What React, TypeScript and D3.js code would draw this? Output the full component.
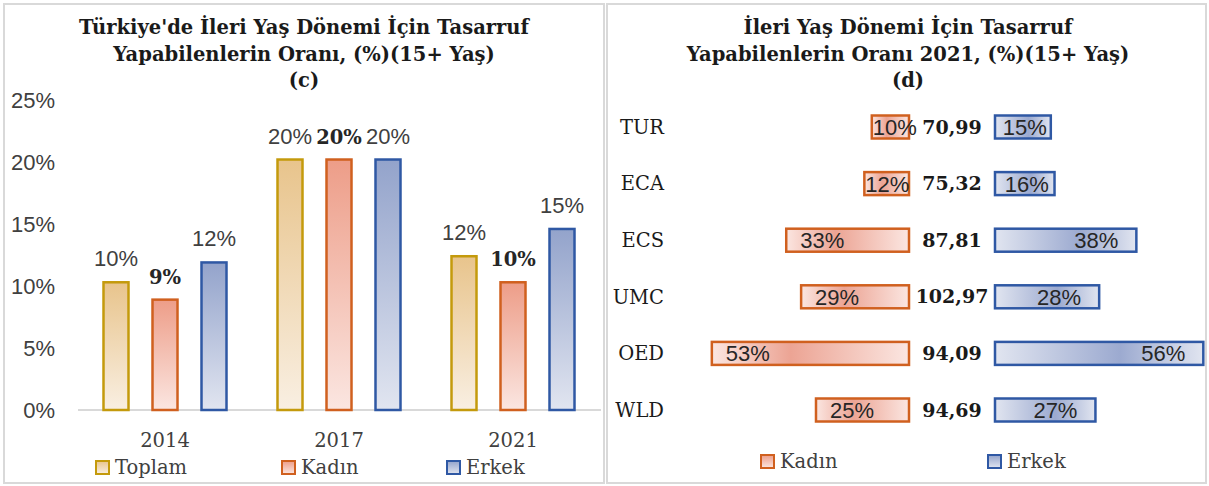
import React from 'react';
import * as d3 from 'd3';

// left chart (c)
const years = ['2014', '2017', '2021'];
const seriesNames = ['Toplam', 'Kadın', 'Erkek'];
const toplam = [10.3, 20.2, 12.4];
const kadin = [8.9, 20.2, 10.3];
const erkek = [11.9, 20.2, 14.6];
const toplamLabels = ['10%', '20%', '12%'];
const kadinLabels = ['9%', '20%', '10%'];
const erkekLabels = ['12%', '20%', '15%'];
const yTicks = [0, 5, 10, 15, 20, 25];

// right chart (d)
const countries = ['TUR', 'ECA', 'ECS', 'UMC', 'OED', 'WLD'];
const kadin2021 = [10, 12, 33, 29, 53, 25];
const erkek2021 = [15, 16, 38, 28, 56, 27];
const ratio2021 = ['70,99', '75,32', '87,81', '102,97', '94,09', '94,69'];

const serif = '"DejaVu Serif", "Liberation Serif", serif';
const sans = '"Liberation Sans", Arial, sans-serif';

const styles = [
  { id: 'gT', top: '#e8c48c', bottom: '#f9efe2', stroke: '#c49a0c' },
  { id: 'gK', top: '#ed9d88', bottom: '#fbe6e1', stroke: '#d0601f' },
  { id: 'gE', top: '#93a3cb', bottom: '#e1e5f0', stroke: '#2f58a4' },
];

function LeftChart() {
  const y = d3.scaleLinear().domain([0, 25]).range([410, 100]);
  const x = d3.scaleBand().domain(years).range([78, 600]);
  const series = [
    { values: toplam, labels: toplamLabels, bold: false },
    { values: kadin, labels: kadinLabels, bold: true },
    { values: erkek, labels: erkekLabels, bold: false },
  ];
  const barW = 25;
  const offs = [-61.5, -12.5, 36.5];
  const titleLines = [
    "Türkiye'de İleri Yaş Dönemi İçin Tasarruf",
    'Yapabilenlerin Oranı, (%)(15+ Yaş)',
    '(c)',
  ];
  const legendX = [96, 282, 447];

  return (
    <g>
      <rect x={4} y={4} width={600} height={479} fill="#fff" stroke="#d9d9d9" strokeWidth={2} />
      {titleLines.map((t, i) => (
        <text key={i} x={304} y={34 + i * 26.5} textAnchor="middle" fontFamily={serif}
          fontWeight="bold" fontSize={19.5} fill="#1a1a1a">{t}</text>
      ))}
      {yTicks.map(t => (
        <text key={t} x={55} y={y(t)} dy="0.35em" textAnchor="end" fontFamily={sans}
          fontSize={22} fill="#404040">{t + '%'}</text>
      ))}
      <line x1={78} x2={601} y1={y(0)} y2={y(0)} stroke="#d9d9d9" strokeWidth={2} />
      {years.map((yr, i) => (
        <text key={yr} x={(x(yr) as number) + x.bandwidth() / 2} y={447} textAnchor="middle"
          fontFamily={serif} fontSize={19.5} fill="#404040">{yr}</text>
      ))}
      {series.map((s, si) =>
        years.map((yr, i) => {
          const cx = (x(yr) as number) + x.bandwidth() / 2 + offs[si];
          const top = y(s.values[i]);
          return (
            <g key={si + '-' + yr}>
              <rect x={cx} y={top} width={barW} height={y(0) - top} fill={'url(#' + styles[si].id + ')'}
                stroke={styles[si].stroke} strokeWidth={2.5} />
              <text x={cx + barW / 2} y={top - 16} textAnchor="middle"
                fontFamily={s.bold ? serif : sans} fontWeight={s.bold ? 'bold' : 'normal'}
                fontSize={s.bold ? 19.5 : 22} fill={s.bold ? '#262626' : '#404040'}>{s.labels[i]}</text>
            </g>
          );
        })
      )}
      {seriesNames.map((n, i) => (
        <g key={n}>
          <rect x={legendX[i]} y={461} width={13} height={13} fill={'url(#' + styles[i].id + ')'}
            stroke={styles[i].stroke} strokeWidth={2} />
          <text x={legendX[i] + 19} y={474} fontFamily={serif} fontSize={19.5} fill="#404040">{n}</text>
        </g>
      ))}
    </g>
  );
}

function RightChart() {
  const yb = d3.scaleBand().domain(countries).range([98.7, 438.3]);
  const xK = d3.scaleLinear().domain([0, 100]).range([909, 909 - 372]);
  const xE = d3.scaleLinear().domain([0, 100]).range([995, 995 + 372]);
  const bh = 23;
  const titleLines = [
    'İleri Yaş Dönemi İçin Tasarruf',
    'Yapabilenlerin Oranı 2021, (%)(15+ Yaş)',
    '(d)',
  ];

  return (
    <g>
      <rect x={607} y={4} width={599} height={479} fill="#fff" stroke="#d9d9d9" strokeWidth={2} />
      {titleLines.map((t, i) => (
        <text key={i} x={908} y={34 + i * 26.5} textAnchor="middle" fontFamily={serif}
          fontWeight="bold" fontSize={19.5} fill="#1a1a1a">{t}</text>
      ))}
      {countries.map((c, i) => {
        const cy = (yb(c) as number) + yb.bandwidth() / 2;
        const kw = xK(0) - xK(kadin2021[i]);
        const ew = xE(erkek2021[i]) - xE(0);
        const kPad = Math.min(14, Math.max(1, (kw - 48) / 2));
        const ePad = Math.min(18, Math.max(4, (ew - 48) / 2));
        return (
          <g key={c}>
            <text x={664} y={cy} dy="0.35em" textAnchor="end" fontFamily={serif} fontSize={19.5}
              fill="#1a1a1a">{c}</text>
            <rect x={xK(kadin2021[i])} y={cy - bh / 2} width={kw} height={bh} fill="url(#hK)"
              stroke={styles[1].stroke} strokeWidth={2.5} />
            <rect x={xE(0)} y={cy - bh / 2} width={ew} height={bh} fill="url(#hE)"
              stroke={styles[2].stroke} strokeWidth={2.5} />
            <text x={xK(kadin2021[i]) + kPad} y={cy} dy="0.36em" fontFamily={sans} fontSize={22}
              fill="#262626">{kadin2021[i] + '%'}</text>
            <text x={xE(erkek2021[i]) - ePad} y={cy} dy="0.36em" textAnchor="end" fontFamily={sans}
              fontSize={22} fill="#262626">{erkek2021[i] + '%'}</text>
            <text x={952} y={cy} dy="0.35em" textAnchor="middle" fontFamily={serif} fontWeight="bold"
              fontSize={19} fill="#1a1a1a">{ratio2021[i]}</text>
          </g>
        );
      })}
      {['Kadın', 'Erkek'].map((n, i) => (
        <g key={n}>
          <rect x={[761, 988][i]} y={455} width={13} height={13} fill={'url(#' + styles[i + 1].id + ')'}
            stroke={styles[i + 1].stroke} strokeWidth={2} />
          <text x={[761, 988][i] + 19} y={468} fontFamily={serif} fontSize={19.5} fill="#404040">{n}</text>
        </g>
      ))}
    </g>
  );
}

export default function App() {
  return (
    <svg width={1209} height={486} style={{ position: 'absolute', left: 0, top: 0 }}>
      <defs>
        {styles.map(s => (
          <linearGradient key={s.id} id={s.id} x1="0" y1="0" x2="0" y2="1">
            <stop offset="0" stopColor={s.top} />
            <stop offset="1" stopColor={s.bottom} />
          </linearGradient>
        ))}
        <linearGradient id="hK" x1="0" y1="0" x2="1" y2="0">
          <stop offset="0" stopColor="#fbe6e1" />
          <stop offset="0.4" stopColor="#eca494" />
          <stop offset="1" stopColor="#fbe6e1" />
        </linearGradient>
        <linearGradient id="hE" x1="0" y1="0" x2="1" y2="0">
          <stop offset="0" stopColor="#e1e5f0" />
          <stop offset="0.6" stopColor="#9caad0" />
          <stop offset="1" stopColor="#e1e5f0" />
        </linearGradient>
      </defs>
      <rect width={1209} height={486} fill="#fff" />
      <LeftChart />
      <RightChart />
    </svg>
  );
}
